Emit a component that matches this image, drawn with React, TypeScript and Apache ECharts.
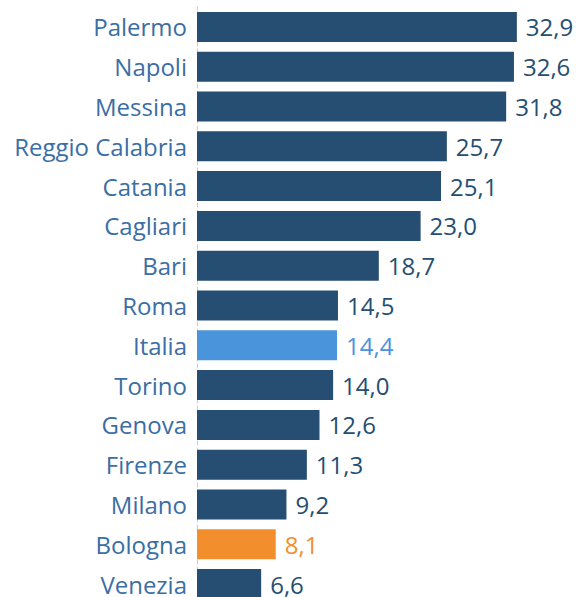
import React, { useEffect, useRef } from "react";
import * as echarts from "echarts";

const categories = [
  "Palermo", "Napoli", "Messina", "Reggio Calabria", "Catania", "Cagliari", "Bari",
  "Roma", "Italia", "Torino", "Genova", "Firenze", "Milano", "Bologna", "Venezia",
];
const values = [32.9, 32.6, 31.8, 25.7, 25.1, 23.0, 18.7, 14.5, 14.4, 14.0, 12.6, 11.3, 9.2, 8.1, 6.6];
const highlight: Record<string, string> = { Italia: "#4a94dc", Bologna: "#f28e2b" };

const NAVY = "#254e72";
const FONT = "'Open Sans', 'Noto Sans', sans-serif";

export default function App() {
  const ref = useRef<HTMLDivElement>(null);
  useEffect(() => {
    if (!ref.current) return;
    const chart = echarts.init(ref.current, undefined, { renderer: "svg" });
    chart.setOption({
      animation: false,
      grid: {
        left: 197,
        top: 7,
        width: 350,
        height: 597,
        containLabel: false,
        outerBoundsMode: "none",
      },
      xAxis: {
        type: "value",
        min: 0,
        max: 36,
        show: false,
      },
      yAxis: {
        type: "category",
        data: categories,
        inverse: true,
        axisTick: { show: false },
        axisLine: { show: true, lineStyle: { color: "#cccccc", type: [4, 3], width: 1 } },
        axisLabel: {
          color: "#3a6ea5",
          fontSize: 24,
          lineHeight: 18,
          fontFamily: FONT,
          margin: 10,
        },
      },
      series: [
        {
          type: "bar",
          barWidth: 30,
          data: values.map((v, i) => {
            const c = highlight[categories[i]] || NAVY;
            return {
              value: v,
              itemStyle: { color: c },
              label: { color: highlight[categories[i]] || NAVY },
            };
          }),
          label: {
            show: true,
            position: "right",
            distance: 9,
            fontSize: 24,
            lineHeight: 18,
            fontFamily: FONT,
            formatter: (p: any) => p.value.toFixed(1).replace(".", ","),
          },
        },
      ],
    });
    return () => chart.dispose();
  }, []);
  return (
    <div
      ref={ref}
      style={{ position: "absolute", left: 0, top: 0, width: 576, height: 597 }}
    />
  );
}
